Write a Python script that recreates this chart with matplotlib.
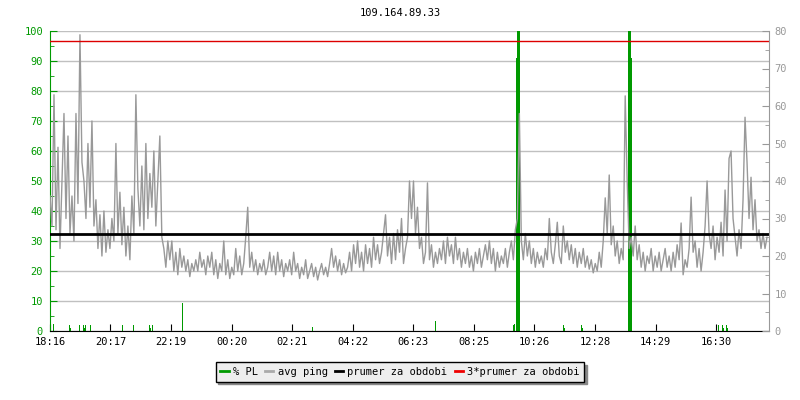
import numpy as np
import matplotlib
matplotlib.use('Agg')
import matplotlib.pyplot as plt
from matplotlib.lines import Line2D
from matplotlib.ticker import MultipleLocator

# data
title = "109.164.89.33"
tick_labels = ['18:16', '20:17', '22:19', '00:20', '02:21', '04:22',
               '06:23', '08:25', '10:26', '12:28', '14:29', '16:30']

# avg ping in ms, one sample every 4 minutes starting 18:16
ping = [
    36, 28, 63, 27, 49, 22, 40, 58, 30, 52, 26, 36, 24, 58, 34, 79, 45, 40, 30, 50,
    33, 56, 28, 35, 22, 31, 20, 32, 21, 27, 22, 30, 24, 50, 26, 37, 23, 33, 20, 28,
    19, 36, 26, 63, 38, 28, 44, 27, 50, 30, 42, 33, 48, 28, 40, 52, 25, 22, 17, 24,
    19, 24, 16, 21, 15, 22, 17, 20, 16, 19, 14.5, 18, 16, 19, 16, 21, 17, 19, 15, 20,
    17, 21, 15, 19, 14, 18, 16, 24, 15, 19, 14, 17, 15, 22, 16, 20, 15, 18, 25, 33,
    17, 21, 16, 19, 15, 18, 16, 19, 15, 17, 21, 16, 20, 15, 21, 16, 19, 14.5, 18, 16,
    19, 15, 21, 16, 18, 14, 17, 15, 19, 14, 16, 18, 14.5, 17, 13.6, 16, 18, 15, 17, 14.5,
    18, 22, 17, 20, 16, 19, 15, 18, 15.5, 17, 21, 16, 23, 18, 24, 17, 21, 16, 23, 18,
    22, 17, 25, 19, 23, 18, 21, 26, 31, 20, 25, 18, 26, 19, 27, 21, 30, 18, 22, 25,
    40, 30, 40, 26, 33, 22, 25, 18, 21, 39.5, 19, 23, 17, 21, 18, 22, 19, 24, 18, 25,
    20, 23, 18, 25, 19, 22, 17, 21, 18, 22, 17, 20, 16, 21, 18, 22, 17, 20, 23, 19,
    24, 18, 22, 16, 21, 17, 20, 18, 22, 17, 21, 24, 19, 27, 30, 58, 24, 19, 26, 20,
    24, 18, 22, 17, 21, 18, 20, 17, 22, 19, 30, 21, 18, 23, 29, 20, 18, 28, 21, 24,
    19, 23, 18, 22, 17, 21, 18, 22, 17, 20, 16.5, 19, 15.5, 18, 16, 21, 17, 24, 35.5, 26,
    41.6, 23, 28, 20, 24, 18, 22, 19, 62.7, 40, 22, 25, 20, 28, 19, 23, 17, 21, 16, 20,
    18, 22, 16, 20, 17, 21, 16, 19, 22, 17, 20, 16, 21, 17, 23, 19, 28.8, 15, 19, 17,
    22, 35.7, 21, 24, 17, 22, 16, 21, 28, 40, 26, 22, 28, 19, 25, 21, 29, 20, 37.6, 24,
    46, 48, 30, 25, 20, 27, 22, 35, 57, 45, 30, 41, 27, 35, 24, 27, 22, 26, 22, 25,
]
step_min = 4

# packet loss bars: minute after 18:16, percent
pl_min = [7, 39, 41, 59, 67, 69, 71, 82, 146, 168, 200, 202, 206, 265, 266,
          525, 773, 929, 931, 935, 937, 939, 941, 1028, 1030, 1064, 1066,
          1159, 1161, 1163, 1165, 1338, 1346, 1348, 1354, 1356]
pl_val = [2.3, 2, 1, 2, 2, 1, 2, 2, 2, 2, 2, 1, 2, 4.7, 9.3,
          1.5, 3.5, 2, 2.5, 91, 100, 100, 100, 2, 1, 2, 1,
          100, 100, 100, 91, 2, 2, 1, 2, 1]

avg_ping = 25.8

green = '#009900'
gray = '#999999'
red = '#dd0000'
font = 'DejaVu Sans Mono'
fs = 7.5

def minutes_after_start(lbl, start=tick_labels[0]):
    h, m = map(int, lbl.split(':'))
    h0, m0 = map(int, start.split(':'))
    return (h * 60 + m - h0 * 60 - m0) % 1440

fig = plt.figure(figsize=(8, 4), dpi=100)
ax = fig.add_axes([50 / 800, 69 / 400, 719 / 800, 300 / 400])
ax2 = ax.twinx()

ax.bar(pl_min, pl_val, width=2, color=green, linewidth=0, zorder=2)
ax.set_xlim(0, 1440)
ax.set_ylim(0, 100)
ax.yaxis.set_major_locator(MultipleLocator(10))
ax.yaxis.set_minor_locator(MultipleLocator(5))
ax.grid(axis='y', color='#c0c0c0', lw=1)
ax.set_axisbelow(True)

t = np.arange(len(ping)) * step_min
ax2.plot(t, ping, color=gray, lw=1)
ax2.axhline(avg_ping, color='black', lw=2)
ax2.axhline(3 * avg_ping, color=red, lw=1)
ax2.set_ylim(0, 80)
ax2.yaxis.set_major_locator(MultipleLocator(10))
ax2.yaxis.set_minor_locator(MultipleLocator(5))

ax.set_xticks([minutes_after_start(l) for l in tick_labels])
ax.set_xticklabels(tick_labels)

for a in (ax, ax2):
    a.spines['top'].set_visible(False)
ax.spines['right'].set_visible(False)
ax2.spines['left'].set_visible(False)
ax2.spines['bottom'].set_visible(False)
ax.spines['left'].set_color(green)
ax.spines['bottom'].set_color('black')
ax2.spines['right'].set_color(gray)

ax.tick_params(axis='y', which='both', direction='in', colors=green, labelcolor=green, pad=5)
ax.tick_params(axis='y', which='major', length=5)
ax.tick_params(axis='y', which='minor', length=3)
ax.tick_params(axis='x', direction='in', length=5, color='black', pad=4)
ax2.tick_params(axis='y', which='both', direction='in', colors=gray, labelcolor=gray, pad=4)
ax2.tick_params(axis='y', which='major', length=5)
ax2.tick_params(axis='y', which='minor', length=3)

for lab in ax.get_xticklabels() + ax.get_yticklabels() + ax2.get_yticklabels():
    lab.set_fontfamily(font)
    lab.set_fontsize(fs)

fig.text(0.5, 1 - 13 / 400, title, ha='center', va='center', fontsize=fs, family=font)

handles = [Line2D([], [], color=green, lw=2),
           Line2D([], [], color='#aaaaaa', lw=2),
           Line2D([], [], color='black', lw=2),
           Line2D([], [], color='#ee0000', lw=2)]
names = ['% PL', 'avg ping', 'prumer za obdobi', '3*prumer za obdobi']
leg = fig.legend(handles, names, loc='center', bbox_to_anchor=(400 / 800, 1 - 372 / 400),
                 ncol=4, frameon=True, fancybox=False, shadow={'color': '#888888', 'alpha': 1},
                 framealpha=1, facecolor='#eeeeee', edgecolor='black', handlelength=0.8,
                 handletextpad=0.4, columnspacing=0.7, borderpad=0.45,
                 prop={'family': font, 'size': fs})
leg.get_frame().set_linewidth(1)

fig.savefig('out.png', dpi=100)
